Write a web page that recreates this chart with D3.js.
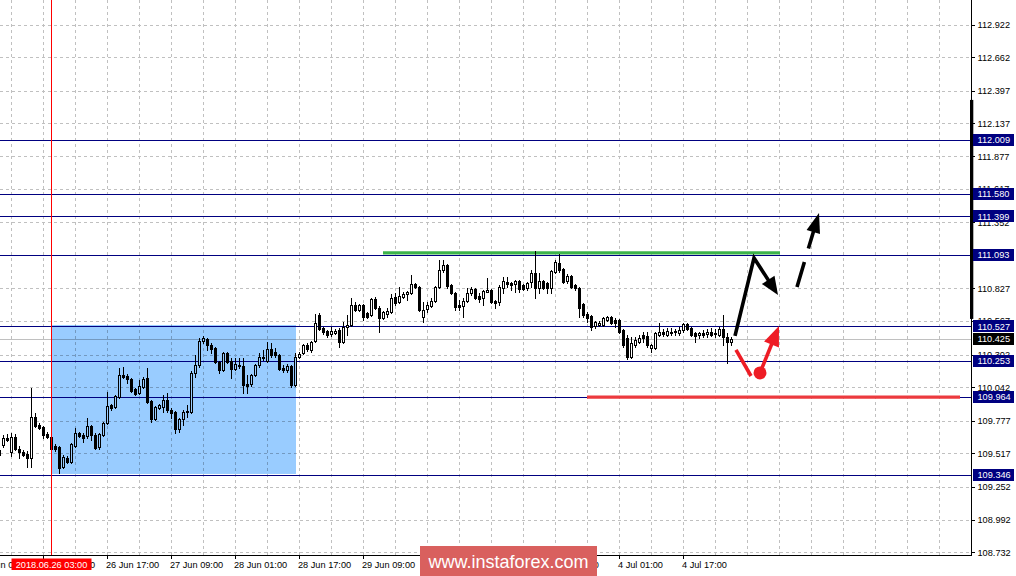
<!DOCTYPE html>
<html><head><meta charset="utf-8">
<script src="https://cdn.jsdelivr.net/npm/d3@7"></script>
<style>
body{margin:0;background:#fff;}
svg{display:block;}
text{font-family:"Liberation Sans",Arial,sans-serif;}
</style>
</head><body>
<svg id="c" width="1016" height="576"></svg>
<script>
// ---------------- DATA ----------------
const open=[109.545,109.584,109.639,109.529,109.647,109.553,109.529,109.513,109.481,109.806,109.743,109.727,109.671,109.647,109.576,109.568,109.409,109.481,109.449,109.576,109.679,109.663,109.655,109.735,109.663,109.568,109.663,109.759,109.902,109.886,109.966,110.140,110.132,110.108,110.029,109.998,110.044,110.116,109.934,109.791,109.878,109.886,109.942,109.862,109.846,109.711,109.791,109.854,109.846,110.156,110.219,110.410,110.426,110.379,110.355,110.243,110.180,110.315,110.251,110.188,110.219,110.211,110.068,110.068,110.140,110.219,110.283,110.251,110.347,110.323,110.299,110.196,110.180,110.211,110.060,110.283,110.315,110.379,110.339,110.410,110.616,110.513,110.489,110.465,110.473,110.497,110.402,110.521,110.537,110.696,110.656,110.696,110.632,110.616,110.744,110.672,110.593,110.624,110.640,110.760,110.720,110.760,110.783,110.791,110.862,110.839,110.601,110.664,110.688,110.728,110.839,110.974,111.013,110.855,110.791,110.696,110.688,110.728,110.791,110.823,110.767,110.752,110.799,110.815,110.728,110.720,110.831,110.878,110.870,110.862,110.886,110.855,110.831,110.878,110.950,110.831,110.886,110.870,110.831,110.958,111.029,110.982,110.886,110.926,110.855,110.831,110.704,110.624,110.608,110.529,110.537,110.537,110.577,110.601,110.577,110.577,110.497,110.434,110.283,110.379,110.402,110.458,110.450,110.355,110.355,110.458,110.481,110.458,110.481,110.489,110.473,110.497,110.545,110.513,110.473,110.458,110.473,110.465,110.481,110.473,110.458,110.505,110.442,110.402];
const high=[109.561,109.663,109.671,109.679,109.671,109.576,109.545,109.537,110.036,109.838,109.759,109.735,109.687,109.655,109.592,109.576,109.505,109.497,109.600,109.719,109.687,109.679,109.798,109.743,109.679,109.679,109.767,110.005,109.910,109.982,110.195,110.203,110.148,110.116,110.036,110.100,110.124,110.195,109.942,109.894,109.910,109.982,109.998,109.878,109.854,109.798,109.862,109.902,110.172,110.299,110.434,110.450,110.434,110.394,110.363,110.251,110.323,110.323,110.275,110.275,110.275,110.275,110.140,110.148,110.227,110.315,110.339,110.402,110.394,110.355,110.307,110.219,110.227,110.219,110.315,110.323,110.386,110.394,110.410,110.624,110.632,110.521,110.497,110.521,110.505,110.513,110.561,110.616,110.752,110.720,110.704,110.704,110.640,110.752,110.760,110.688,110.648,110.672,110.783,110.791,110.839,110.799,110.807,110.934,110.870,110.847,110.720,110.720,110.752,110.847,111.053,111.053,111.021,110.862,110.799,110.736,110.752,110.831,110.839,110.831,110.791,110.815,110.910,110.823,110.736,110.855,110.918,110.918,110.878,110.894,110.894,110.862,110.878,110.974,111.125,110.950,110.894,110.878,110.974,111.053,111.101,110.990,110.942,110.934,110.862,110.839,110.712,110.640,110.616,110.569,110.569,110.601,110.608,110.608,110.593,110.585,110.505,110.458,110.442,110.442,110.458,110.481,110.481,110.386,110.481,110.553,110.505,110.513,110.513,110.505,110.521,110.553,110.553,110.521,110.481,110.481,110.497,110.505,110.513,110.505,110.521,110.616,110.473,110.442];
const low=[109.481,109.568,109.616,109.497,109.545,109.481,109.497,109.409,109.409,109.727,109.711,109.639,109.639,109.545,109.537,109.362,109.401,109.441,109.441,109.568,109.647,109.608,109.639,109.624,109.553,109.553,109.655,109.751,109.862,109.878,109.958,110.116,110.076,110.005,109.982,109.990,110.036,109.918,109.767,109.783,109.870,109.846,109.846,109.798,109.679,109.687,109.743,109.806,109.838,110.124,110.203,110.394,110.339,110.315,110.235,110.156,110.172,110.235,110.116,110.180,110.196,109.998,109.998,110.052,110.132,110.203,110.259,110.243,110.283,110.283,110.180,110.164,110.164,110.044,110.052,110.275,110.307,110.331,110.323,110.402,110.497,110.465,110.441,110.450,110.465,110.363,110.394,110.458,110.529,110.648,110.648,110.577,110.593,110.608,110.664,110.481,110.585,110.601,110.632,110.696,110.712,110.752,110.736,110.783,110.831,110.648,110.561,110.640,110.680,110.720,110.831,110.958,110.831,110.783,110.656,110.656,110.601,110.720,110.775,110.744,110.720,110.696,110.799,110.712,110.672,110.696,110.791,110.839,110.815,110.799,110.799,110.815,110.815,110.839,110.752,110.791,110.823,110.791,110.791,110.950,110.958,110.870,110.870,110.831,110.815,110.601,110.601,110.561,110.497,110.513,110.529,110.529,110.569,110.545,110.521,110.473,110.363,110.267,110.275,110.363,110.394,110.402,110.363,110.323,110.347,110.450,110.450,110.450,110.458,110.458,110.458,110.481,110.497,110.450,110.402,110.434,110.442,110.442,110.450,110.442,110.450,110.379,110.235,110.379];
const close=[109.505,109.639,109.624,109.647,109.553,109.529,109.505,109.481,109.806,109.735,109.719,109.663,109.647,109.553,109.553,109.401,109.489,109.449,109.592,109.679,109.655,109.639,109.735,109.663,109.560,109.671,109.759,109.894,109.878,109.974,110.140,110.124,110.108,110.013,109.990,110.052,110.108,109.926,109.791,109.886,109.902,109.942,109.862,109.838,109.711,109.791,109.846,109.846,110.156,110.219,110.410,110.434,110.379,110.347,110.243,110.180,110.315,110.243,110.188,110.227,110.211,110.060,110.052,110.140,110.219,110.283,110.275,110.347,110.299,110.299,110.188,110.180,110.211,110.060,110.283,110.307,110.379,110.347,110.402,110.553,110.505,110.481,110.458,110.489,110.489,110.402,110.521,110.537,110.696,110.656,110.696,110.601,110.601,110.744,110.672,110.593,110.640,110.648,110.752,110.712,110.767,110.783,110.799,110.862,110.839,110.656,110.656,110.696,110.728,110.839,110.974,111.013,110.847,110.791,110.680,110.680,110.728,110.791,110.823,110.752,110.744,110.807,110.815,110.720,110.712,110.839,110.886,110.862,110.855,110.886,110.823,110.823,110.870,110.950,110.831,110.886,110.831,110.831,110.966,111.037,110.974,110.878,110.926,110.839,110.831,110.672,110.616,110.593,110.521,110.561,110.553,110.593,110.601,110.553,110.553,110.481,110.379,110.283,110.394,110.418,110.434,110.434,110.379,110.379,110.473,110.481,110.465,110.489,110.473,110.481,110.497,110.545,110.505,110.458,110.450,110.473,110.458,110.481,110.458,110.465,110.505,110.442,110.402,110.425];

const priceTicks=[112.922,112.662,112.397,112.137,111.877,111.617,111.352,111.092,110.827,110.567,110.302,110.042,109.777,109.517,109.252,108.992,108.732];
const timeTickIndex=[-5,11,27,43,59,75,91,107,123,139,155,171];
const timeTickLabels=["25 Jun 09:00","26 Jun 01:00","26 Jun 17:00","27 Jun 09:00","28 Jun 01:00","28 Jun 17:00","29 Jun 09:00","2 Jul 01:00","2 Jul 17:00","3 Jul 09:00","4 Jul 01:00","4 Jul 17:00"];
const levelPrices=[112.009,111.580,111.399,111.093,110.527,110.253,109.964,109.346];
const lastPrice=110.425;
const markerIndex=13;
const markerLabel="2018.06.26 03:00";
const zoneIndex=[13,74.25];
const zonePrice=[110.537,109.354];
const resistIndex=[96,195.25];
const resistPrice=111.109;
const supportIndex=[147,240.25];
const supportPrice=109.964;
const blackPathIndex=[184,188.75,194.75];
const blackPathPrice=[110.450,111.069,110.775];
const dashPathIndex=[199.5,205];
const dashPathPrice=[110.839,111.427];
const redLineIndex=[184.25,188];
const redLinePrice=[110.339,110.132];
const redArrowIndex=[190.25,195];
const redArrowPrice=[110.156,110.529];
const scrollBarPrice=[112.324,110.585];
const watermark="www.instaforex.com";

// ---------------- SCALES ----------------
const W=1016,H=576,plotR=971,plotB=555;
const svg=d3.select("#c");
const x=d3.scaleLinear().domain([0,243]).range([-1,971]);
const y=d3.scaleLinear().domain([108.732,112.922]).range([552.3,24.6]);

svg.append("rect").attr("width",W).attr("height",H).attr("fill","#fff");
const plot=svg.append("g");
plot.append("clipPath").attr("id","pc").append("rect").attr("x",0).attr("y",0).attr("width",plotR).attr("height",plotB);
const P=plot.append("g").attr("clip-path","url(#pc)");

// grid
const gridIdx=d3.range(3,243,8);
P.selectAll("line.vg").data(gridIdx).join("line")
 .attr("x1",d=>Math.round(x(d))+0.5).attr("x2",d=>Math.round(x(d))+0.5)
 .attr("y1",0).attr("y2",plotB)
 .attr("stroke","#c0c0c0").attr("stroke-dasharray","3,3");
P.selectAll("line.hg").data(priceTicks).join("line")
 .attr("x1",0).attr("x2",plotR)
 .attr("y1",d=>Math.round(y(d))+0.5).attr("y2",d=>Math.round(y(d))+0.5)
 .attr("stroke","#c0c0c0").attr("stroke-dasharray","3,3");

// level lines
P.selectAll("line.lv").data(levelPrices).join("line")
 .attr("x1",0).attr("x2",plotR)
 .attr("y1",d=>Math.round(y(d))+0.5).attr("y2",d=>Math.round(y(d))+0.5)
 .attr("stroke","#000080").attr("stroke-width",1);
P.append("line").attr("x1",0).attr("x2",plotR)
 .attr("y1",Math.round(y(lastPrice))+0.5).attr("y2",Math.round(y(lastPrice))+0.5)
 .attr("stroke","#c0c0c0");

// resistance / support
P.append("line").attr("x1",x(resistIndex[0])).attr("x2",x(resistIndex[1]))
 .attr("y1",y(resistPrice)).attr("y2",y(resistPrice))
 .attr("stroke","#3cb34a").attr("stroke-width",3.2);
P.append("line").attr("x1",x(supportIndex[0])).attr("x2",x(supportIndex[1]))
 .attr("y1",y(supportPrice)).attr("y2",y(supportPrice))
 .attr("stroke","#ec3a3e").attr("stroke-width",3.2);

// candles
const data=open.map((o,i)=>({i,o,h:high[i],l:low[i],c:close[i]}));
const cx=d=>Math.round(x(d.i));
P.selectAll("line.wick").data(data).join("line")
 .attr("x1",d=>cx(d)+0.5).attr("x2",d=>cx(d)+0.5)
 .attr("y1",d=>Math.round(y(d.h))).attr("y2",d=>Math.round(y(d.l))+1)
 .attr("stroke","#000");
data.forEach(d=>{
  const yo=Math.round(y(d.o)), yc=Math.round(y(d.c));
  if(d.c>d.o){
    P.append("rect").attr("x",cx(d)-0.5).attr("y",yc+0.5)
     .attr("width",2).attr("height",Math.max(yo-yc,1))
     .attr("fill","#fff").attr("stroke","#000");
  } else {
    P.append("rect").attr("x",cx(d)-1).attr("y",yo)
     .attr("width",3).attr("height",Math.max(yc-yo,1)+1)
     .attr("fill","#000");
  }
});

// zone (background rectangle, blended)
P.append("rect")
 .attr("x",x(zoneIndex[0])).attr("y",y(zonePrice[0]))
 .attr("width",x(zoneIndex[1])-x(zoneIndex[0])).attr("height",y(zonePrice[1])-y(zonePrice[0]))
 .attr("fill","#99ccff").style("mix-blend-mode","multiply");

// vertical marker line
P.append("line").attr("x1",Math.round(x(markerIndex))+0.5).attr("x2",Math.round(x(markerIndex))+0.5)
 .attr("y1",0).attr("y2",plotB).attr("stroke","#ff0000");

// arrows
function head(g,x1,y1,x2,y2,len,wid,color){
  const a=Math.atan2(y2-y1,x2-x1);
  const bx=x2-len*Math.cos(a), by=y2-len*Math.sin(a);
  const px=-Math.sin(a)*wid/2, py=Math.cos(a)*wid/2;
  g.append("path").attr("d",`M${x2},${y2}L${bx+px},${by+py}L${bx-px},${by-py}Z`).attr("fill",color);
  return [bx+3*Math.cos(a),by+3*Math.sin(a)];
}
const A=P.append("g");
{
  const pts=blackPathIndex.map((d,i)=>[x(d),y(blackPathPrice[i])]);
  const n=pts.length;
  const b=head(A,pts[n-2][0],pts[n-2][1],pts[n-1][0],pts[n-1][1],18,15,"#000");
  const lp=pts.slice(0,n-1).concat([b]);
  A.append("path").attr("d",d3.line()(lp)).attr("fill","none").attr("stroke","#000")
   .attr("stroke-width",3.6).attr("stroke-linejoin","miter");
}
{
  const p0=[x(dashPathIndex[0]),y(dashPathPrice[0])], p1=[x(dashPathIndex[1]),y(dashPathPrice[1])];
  const b=head(A,p0[0],p0[1],p1[0],p1[1],20,14,"#000");
  A.append("path").attr("d",d3.line()([p0,b])).attr("fill","none").attr("stroke","#000")
   .attr("stroke-width",3.6).attr("stroke-dasharray","26,14,200");
}
{
  const r0=[x(redLineIndex[0]),y(redLinePrice[0])], r1=[x(redLineIndex[1]),y(redLinePrice[1])];
  A.append("path").attr("d",d3.line()([r0,r1])).attr("fill","none").attr("stroke","#ee1c25").attr("stroke-width",3.6);
  const q0=[x(redArrowIndex[0]),y(redArrowPrice[0])], q1=[x(redArrowIndex[1]),y(redArrowPrice[1])];
  const b=head(A,q0[0],q0[1],q1[0],q1[1],20,16,"#ee1c25");
  A.append("path").attr("d",d3.line()([q0,b])).attr("fill","none").attr("stroke","#ee1c25").attr("stroke-width",3.6);
  A.append("circle").attr("cx",q0[0]).attr("cy",q0[1]).attr("r",6.5).attr("fill","#ee1c25");
}

// ---------------- AXES ----------------
const F=9.2;
svg.append("line").attr("x1",plotR+0.5).attr("x2",plotR+0.5).attr("y1",0).attr("y2",plotB+1).attr("stroke","#000");
svg.append("line").attr("x1",0).attr("x2",plotR+1).attr("y1",plotB+0.5).attr("y2",plotB+0.5).attr("stroke","#000");
// thick bar on axis
svg.append("rect").attr("x",plotR-1).attr("y",y(scrollBarPrice[0])).attr("width",3.3)
 .attr("height",y(scrollBarPrice[1])-y(scrollBarPrice[0])).attr("fill","#000");

svg.selectAll("line.yt").data(priceTicks).join("line")
 .attr("x1",plotR).attr("x2",plotR+4)
 .attr("y1",d=>Math.round(y(d))+0.5).attr("y2",d=>Math.round(y(d))+0.5).attr("stroke","#000");
svg.selectAll("text.yl").data(priceTicks).join("text")
 .attr("x",977.5).attr("y",d=>y(d)+3.3).attr("font-size",F).attr("fill","#000")
 .text(d=>d.toFixed(3));

function priceBox(v,fill){
  const yy=Math.round(y(v));
  svg.append("rect").attr("x",973).attr("y",yy-6).attr("width",41).attr("height",12).attr("fill",fill);
  svg.append("text").attr("x",977.5).attr("y",y(v)+3.3).attr("font-size",F).attr("fill","#fff").text(v.toFixed(3));
}
levelPrices.forEach(v=>priceBox(v,"#000080"));
priceBox(lastPrice,"#000");

// time axis
svg.selectAll("line.xt").data(timeTickIndex).join("line")
 .attr("x1",d=>Math.round(x(d))+0.5).attr("x2",d=>Math.round(x(d))+0.5)
 .attr("y1",plotB).attr("y2",plotB+4).attr("stroke","#000");
svg.selectAll("text.xl").data(timeTickIndex).join("text")
 .attr("x",d=>x(d)-1).attr("y",567.5).attr("font-size",F).attr("fill","#000")
 .text((d,i)=>timeTickLabels[i]);

// marker date box
{
  const mx=Math.round(x(markerIndex))+0.5;
  svg.append("rect").attr("x",mx-40).attr("y",558.5).attr("width",80).attr("height",11.5).attr("fill","#ff0000");
  svg.append("text").attr("x",mx).attr("y",567.5).attr("text-anchor","middle").attr("font-size",F).attr("fill","#fff").text(markerLabel);
}

// watermark
svg.append("rect").attr("x",420).attr("y",546).attr("width",177).attr("height",30).attr("fill","#d9605e");
svg.append("text").attr("x",508.5).attr("y",568).attr("text-anchor","middle").attr("font-size",18).attr("fill","#fff").text(watermark);
</script>
</body></html>
